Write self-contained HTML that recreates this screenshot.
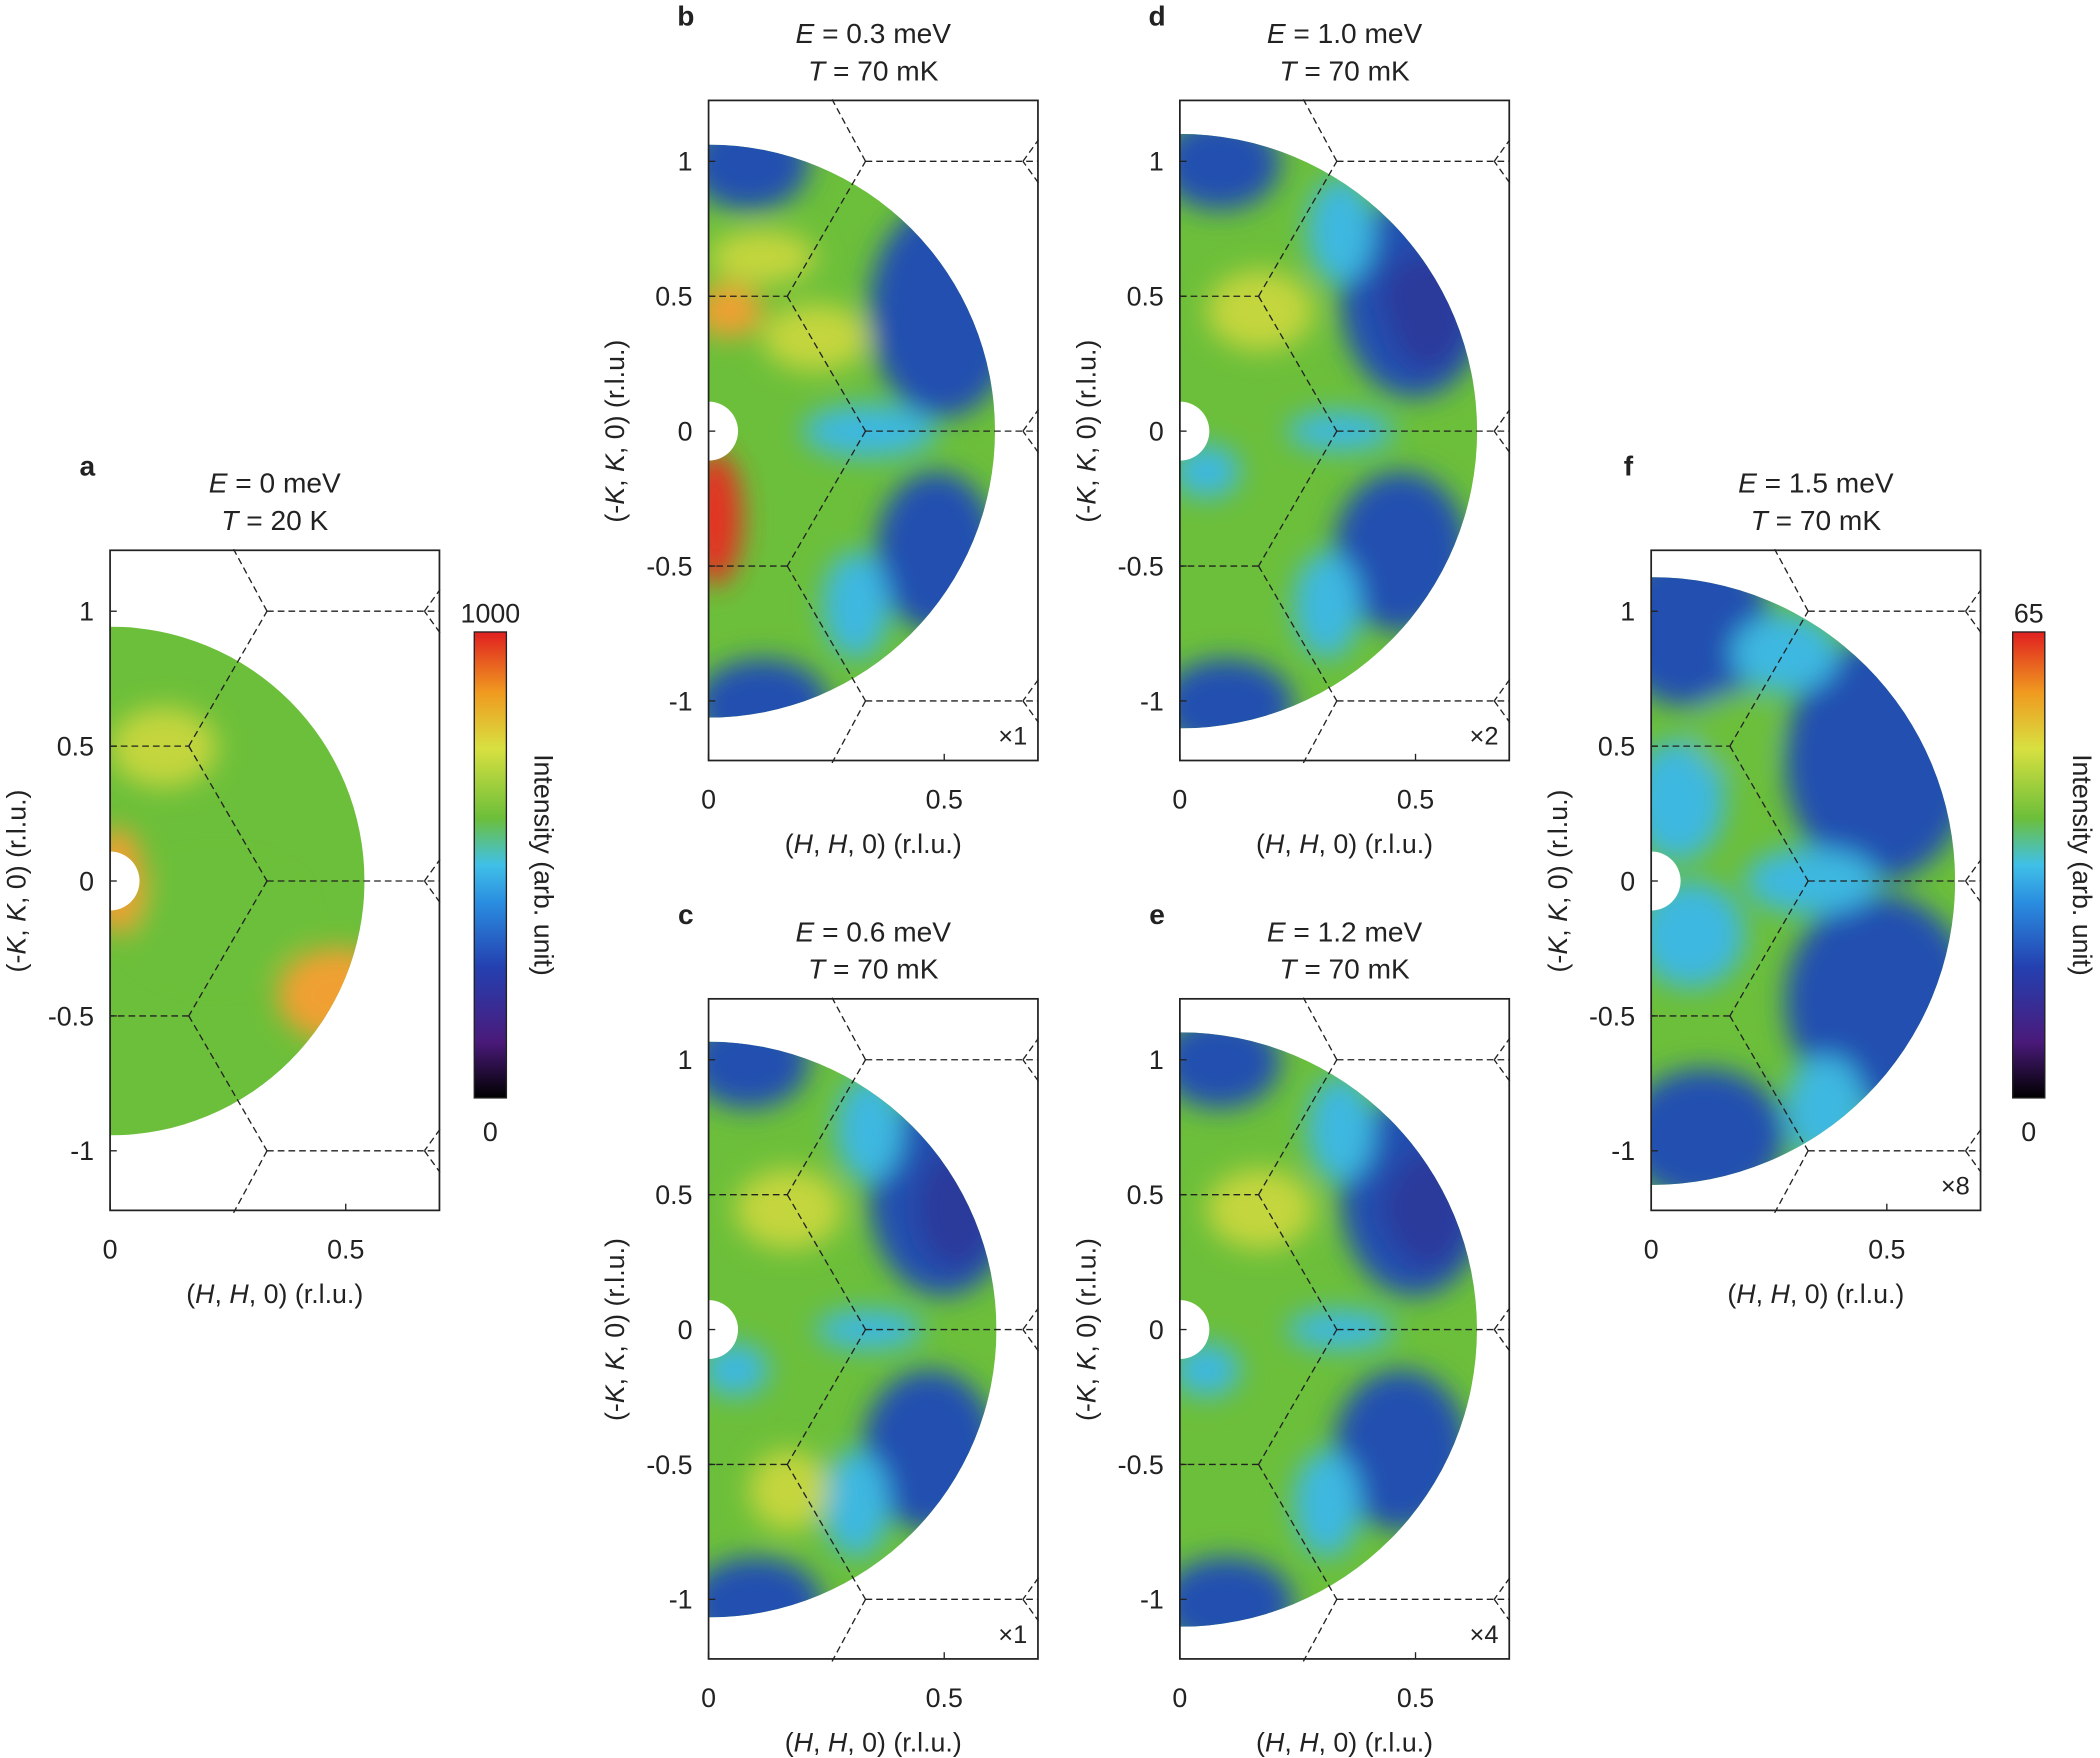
<!DOCTYPE html>
<html><head><meta charset="utf-8"><style>
html,body{margin:0;padding:0;background:#fff}
svg{display:block}
text{font-family:"Liberation Sans",sans-serif;fill:#222}
</style></head><body>
<svg id="s" width="2100" height="1758" viewBox="0 0 1568 1313" xmlns="http://www.w3.org/2000/svg">
<defs>
<filter id="bl" x="-50%" y="-50%" width="200%" height="200%"><feGaussianBlur stdDeviation="10"/></filter>
<linearGradient id="cb" x1="0" y1="1" x2="0" y2="0">
<stop offset="0" stop-color="#000"/><stop offset="0.12" stop-color="#4a1a7a"/><stop offset="0.28" stop-color="#2440b0"/>
<stop offset="0.42" stop-color="#2a8ee0"/><stop offset="0.5" stop-color="#40c0e8"/><stop offset="0.6" stop-color="#6cbf3a"/>
<stop offset="0.75" stop-color="#d8e040"/><stop offset="0.87" stop-color="#f09a20"/><stop offset="1" stop-color="#e02020"/>
</linearGradient>
</defs>
</svg>
<script>
const S=document.getElementById('s');const NS='http://www.w3.org/2000/svg';
function el(t,a,p){const e=document.createElementNS(NS,t);for(const k in a)e.setAttribute(k,a[k]);(p||S).appendChild(e);return e;}
function txt(x,y,s,o){const e=el('text',Object.assign({x:x,y:y,'font-size':20,'text-anchor':'middle'},o||{}));e.innerHTML=s;return e;}
const C={g:'#6cbf3a',b:'#2050b0',d:'#2a3a9c',c:'#3cb8e0',y:'#c4d63c',o:'#f0a030',r:'#e33020',l:'#8ccf40'};
let idn=0;
function panel(cx,cy,R,blobs,lab,E,T,mult){
 const x0=cx,x1=cx+246,y0=cy-247,y1=cy+246,ux=352,uy=201.5;
 const id='c'+(idn++);
 const cp=el('clipPath',{id:id});
 el('path',{d:`M${cx},${cy-R} A${R},${R} 0 0 1 ${cx},${cy+R} Z`},cp);
 const g=el('g',{'clip-path':`url(#${id})`});
 el('rect',{x:cx,y:cy-R,width:R,height:2*R,fill:C.g},g);
 const gb=el('g',{filter:'url(#bl)'},g);
 blobs.forEach(b=>el('ellipse',{cx:cx+b[0],cy:cy+b[1],rx:b[2],ry:b[3],fill:C[b[4]]},gb));
 el('circle',{cx:cx,cy:cy,r:22,fill:'#fff'});
 const L=[[0,.5,.167,.5],[.167,.5,.333,0],[.333,0,.7,0],[.333,0,.167,-.5],[.167,-.5,0,-.5],[.167,-.5,.333,-1],[.333,-1,.7,-1],[.333,-1,.262,-1.23],[.167,.5,.333,1],[.333,1,.7,1],[.333,1,.262,1.23],[.7,-.92,.667,-1],[.667,-1,.7,-1.08],[.7,.92,.667,1],[.667,1,.7,1.08],[.7,-.08,.667,0],[.667,0,.7,.08]];
 L.forEach(l=>el('line',{x1:cx+l[0]*ux,y1:cy-l[1]*uy,x2:cx+l[2]*ux,y2:cy-l[3]*uy,stroke:'#222','stroke-width':1,'stroke-dasharray':'5,3'}));
 el('rect',{x:x0,y:y0,width:246,height:493,fill:'none',stroke:'#222','stroke-width':1.3});
 [[1,'1'],[.5,'0.5'],[0,'0'],[-.5,'-0.5'],[-1,'-1']].forEach(t=>{const y=cy-t[0]*uy;el('line',{x1:x0,y1:y,x2:x0+5,y2:y,stroke:'#222'});txt(x0-12,y+7,t[1],{'text-anchor':'end'});});
 [[0,'0'],[.5,'0.5']].forEach(t=>{const x=cx+t[0]*ux;el('line',{x1:x,y1:y1,x2:x,y2:y1-5,stroke:'#222'});txt(x,y1+36,t[1]);});
 txt(cx+123,y1+69,'(<tspan font-style="italic">H</tspan>, <tspan font-style="italic">H</tspan>, 0) (r.l.u.)');
 txt(x0-70,cy,'(-<tspan font-style="italic">K</tspan>, <tspan font-style="italic">K</tspan>, 0) (r.l.u.)',{transform:`rotate(-90 ${x0-70} ${cy})`,dy:7});
 txt(cx+123,y0-43,'<tspan font-style="italic">E</tspan> = '+E,{'font-size':21});
 txt(cx+123,y0-15,'<tspan font-style="italic">T</tspan> = '+T,{'font-size':21});
 txt(x0-17,y0-56,lab,{'font-weight':'bold','font-size':21});
 if(mult)txt(x1-8,y1-12,mult,{'text-anchor':'end','font-size':19});
}
function cbar(x,top){el('rect',{x:x,y:472,width:24,height:348,fill:'url(#cb)',stroke:'#222','stroke-width':1});
 txt(x+12,465,top);txt(x+12,852,'0');
 txt(x+52,646,'Intensity (arb. unit)',{transform:`rotate(90 ${x+52} 646)`,dy:7});}
const std=[[30,-200,45,35,'b'],[175,-100,55,75,'b'],[185,-90,30,45,'d'],[165,90,50,60,'b'],[35,205,50,35,'b'],[20,30,25,20,'c'],[120,0,40,15,'c'],[110,130,25,40,'c'],[120,-150,25,40,'c'],[60,-90,40,30,'y']];
panel(82,658,190,[[170,85,45,35,'o'],[5,0,20,40,'o'],[40,-100,40,30,'y'],[80,30,60,40,'g']],'a','0 meV','20 K');
cbar(354,'1000');
panel(529,322,214,[[30,-200,45,35,'b'],[175,-90,55,80,'b'],[170,90,45,60,'b'],[40,205,50,35,'b'],[120,0,50,20,'c'],[110,130,25,40,'c'],[5,65,20,50,'r'],[15,-90,25,20,'o'],[80,-70,40,25,'y'],[40,-130,40,20,'y']],'b','0.3 meV','70 mK','×1');
panel(529,993,215,std.concat([[60,120,30,30,'y']]),'c','0.6 meV','70 mK','×1');
panel(881,322,222,std.concat([[175,-100,25,30,'d']]),'d','1.0 meV','70 mK','×2');
panel(881,993,222,std.concat([[175,-90,25,30,'d']]),'e','1.2 meV','70 mK','×4');
panel(1233,658,227,[[30,-190,60,60,'b'],[170,-90,70,90,'b'],[170,90,70,80,'b'],[40,190,60,50,'b'],[30,40,40,40,'c'],[120,0,50,25,'c'],[130,170,30,40,'c'],[100,-170,40,30,'c'],[20,-60,35,45,'c'],[60,-110,30,30,'g']],'f','1.5 meV','70 mK','×8');
cbar(1503,'65');
</script>
</body></html>
